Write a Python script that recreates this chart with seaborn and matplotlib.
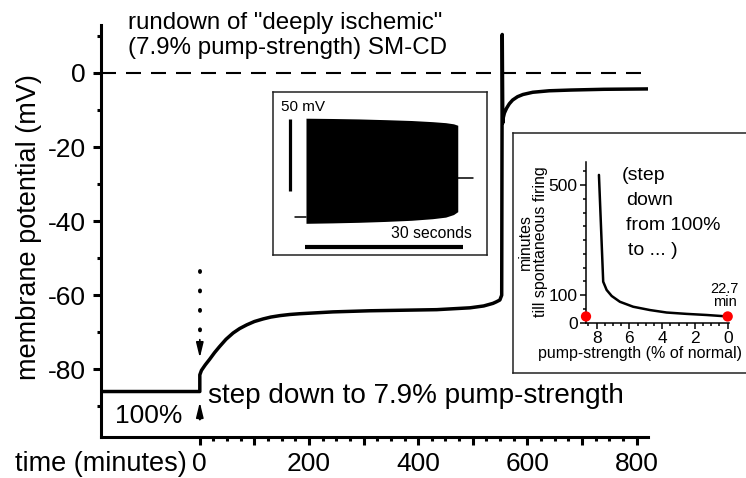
import numpy as np
import matplotlib
matplotlib.use("Agg")
import matplotlib.pyplot as plt
from matplotlib.ticker import FixedLocator, FuncFormatter
import seaborn as sns

# ---- main trace: membrane potential (mV) vs time (minutes) ----
time_min = [-181, 0, 0, 3, 10, 18, 27, 36, 48, 61, 73, 86, 100, 116, 130, 147,
            165, 183, 244, 311, 434, 495, 520, 537, 543, 549.6, 553, 554,
            555, 556, 558, 562, 567, 573, 582, 592, 610, 640, 680, 740, 821]
potential_mv = [-86, -86, -81.5, -80.3, -78.8, -77.3, -75.5, -73.9, -71.9, -70.2,
                -69.0, -68.0, -67.1, -66.4, -65.9, -65.5, -65.2, -65.0, -64.5,
                -64.2, -63.9, -63.4, -62.9, -62.2, -61.8, -61.3, -60.0, 10.4,
                -13.5, -12.0, -10.8, -9.5, -8.3, -7.3, -6.4, -5.8, -5.2, -4.8,
                -4.6, -4.4, -4.3]

# ---- inset: burst of firing (seconds, mV) ----
burst_t = [0, 5, 10, 15, 20, 24, 26.5, 28, 28.8]
burst_top = [6.4, 6.2, 5.9, 5.4, 4.8, 4.0, 3.3, 2.5, 1.5]
burst_bottom = [-66.6, -66.3, -65.9, -65.3, -64.5, -63.4, -62.3, -60.5, -58.5]
lead_t, lead_v = [-2.1, 0], [-62, -62]
tail_t, tail_v = [28.8, 31.7], [-35.1, -35.1]

# ---- inset: minutes till spontaneous firing vs pump strength ----
pump_pct = [7.86, 7.6, 7.39, 7.08, 6.58, 5.77, 4.75, 3.73, 2.50, 1.28, 0]
minutes_to_fire = [537, 149, 119, 97, 76, 58, 46, 37, 32, 28, 22.7]
marker_pct = [8.65, 0]
marker_min = [22.7, 22.7]

W, H, DPI = 746, 478, 100
sns.set_style("ticks")
plt.rcParams["font.family"] = ["Liberation Sans", "DejaVu Sans"]
plt.rcParams["axes.unicode_minus"] = False

fig = plt.figure(figsize=(W / DPI, H / DPI), dpi=DPI)


def rect(left, top, right, bottom):
    return [left / W, 1 - bottom / H, (right - left) / W, (bottom - top) / H]


def ftext(px, py, s, **kw):
    kw.setdefault("va", "baseline")
    kw.setdefault("color", "black")
    return fig.text(px / W, 1 - py / H, s, **kw)


# ================= main axes =================
ax = fig.add_axes(rect(101, 25, 648, 436.7))
sns.lineplot(x=time_min, y=potential_mv, sort=False, estimator=None,
             color="black", linewidth=2.5, ax=ax)
ax.axhline(0, color="black", linewidth=1.5, linestyle=(0, (7.2, 4.8)))
ax.set_xlim(-181, 821)
ax.set_ylim(-98.2, 12.96)
sns.despine(ax=ax)
for s in ("left", "bottom"):
    ax.spines[s].set_linewidth(2.2)
    ax.spines[s].set_color("black")
ax.xaxis.set_major_locator(FixedLocator(np.arange(0, 801, 100)))
ax.xaxis.set_minor_locator(FixedLocator(np.arange(0, 801, 25)))
ax.xaxis.set_major_formatter(FuncFormatter(lambda v, p: f"{v:.0f}" if v % 200 == 0 else ""))
ax.yaxis.set_major_locator(FixedLocator([-80, -60, -40, -20, 0]))
ax.yaxis.set_minor_locator(FixedLocator([-90, -70, -50, -30, -10, 10]))
ax.yaxis.set_major_formatter(FuncFormatter(lambda v, p: f"{v:.0f}"))
ax.tick_params(which="major", length=6, width=2.2, labelsize=19, pad=5,
               direction="out", color="black", labelcolor="black")
ax.tick_params(which="minor", length=3, width=2.2, direction="out", color="black")
ax.set_xlabel("")
ax.set_ylabel("")

# dotted arrows marking the step at t = 0
dots = dict(color="black", linewidth=2.8, linestyle=(0, (0.25, 4.75)),
            dash_capstyle="round")
ax.plot([0, 0], [-53.4, -71.5], **dots)
ax.plot([0, 0], [-92.8, -97.8], **dots)
head = dict(arrowstyle="-|>,head_length=0.9,head_width=0.22", color="black",
            lw=1.2, shrinkA=0, shrinkB=0)
ax.annotate("", xy=(0, -76.9), xytext=(0, -72.0), arrowprops=head)
ax.annotate("", xy=(0, -88.9), xytext=(0, -93.6), arrowprops=head)

# ================= inset: firing burst =================
ax1 = fig.add_axes(rect(273, 92, 487, 255), zorder=2)
ax1.set_facecolor("white")
ax1.fill_between(burst_t, burst_bottom, burst_top, color="black", linewidth=0)
sns.lineplot(x=lead_t, y=lead_v, color="black", linewidth=1.1, ax=ax1)
sns.lineplot(x=tail_t, y=tail_v, color="black", linewidth=1.1, ax=ax1)
ax1.plot([-3.04, -3.04], [5.8, -44.2], color="black", linewidth=2.3, solid_capstyle="butt")
ax1.plot([-0.2, 29.8], [-82.8, -82.8], color="black", linewidth=3.0, solid_capstyle="butt")
ax1.set_xlim(-6.26, 34.35)
ax1.set_ylim(-88.6, 24.6)
ax1.set_xticks([])
ax1.set_yticks([])
ax1.set_xlabel("")
ax1.set_ylabel("")
for s in ax1.spines.values():
    s.set_linewidth(1.1)
    s.set_color("#222222")

# ================= inset: time to firing =================
axb = fig.add_axes(rect(513, 133, 770, 373), zorder=2)
axb.set_facecolor("white")
axb.set_xticks([])
axb.set_yticks([])
for s in axb.spines.values():
    s.set_linewidth(1.1)
    s.set_color("#222222")

ax2 = fig.add_axes(rect(586, 161.7, 729, 322.7), zorder=3)
ax2.patch.set_alpha(0)
sns.lineplot(x=pump_pct, y=minutes_to_fire, sort=False, estimator=None,
             color="black", linewidth=1.8, ax=ax2)
sns.scatterplot(x=marker_pct, y=marker_min, color="#ff0000", s=55,
                edgecolor="none", zorder=5, clip_on=False, ax=ax2)
ax2.set_xlim(8.65, -0.08)
ax2.set_ylim(0, 585)
sns.despine(ax=ax2)
for s in ("left", "bottom"):
    ax2.spines[s].set_linewidth(1.1)
    ax2.spines[s].set_color("black")
ax2.xaxis.set_major_locator(FixedLocator([8, 6, 4, 2, 0]))
ax2.xaxis.set_minor_locator(FixedLocator(np.arange(0, 8.51, 0.5)))
ax2.yaxis.set_major_locator(FixedLocator([0, 100, 500]))
ax2.yaxis.set_minor_locator(FixedLocator(np.arange(0, 551, 50)))
ax2.xaxis.set_major_formatter(FuncFormatter(lambda v, p: f"{v:.0f}"))
ax2.yaxis.set_major_formatter(FuncFormatter(lambda v, p: f"{v:.0f}"))
ax2.tick_params(which="major", length=4, width=1.1, labelsize=12.5, pad=2,
                color="black", labelcolor="black")
ax2.tick_params(which="minor", length=2.5, width=1.1, color="black")
ax2.set_xlabel("")
ax2.set_ylabel("")

# ================= text =================
ftext(128, 29, 'rundown of "deeply ischemic"', fontsize=17.4)
ftext(128, 54, "(7.9% pump-strength) SM-CD", fontsize=17.4)
ftext(29, 227.5, "membrane potential (mV)", rotation=90, ha="center",
      va="center", fontsize=19.5)
ftext(15, 471, "time (minutes)", fontsize=19.5)
ftext(115, 422.7, "100%", fontsize=19)
ftext(208, 403, "step down to 7.9% pump-strength", fontsize=20.1)

ftext(281, 111, "50 mV", fontsize=11)
ftext(472, 238, "30 seconds", ha="right", fontsize=11.3)

ftext(533, 242, "minutes\ntill spontaneous firing", rotation=90, ha="center",
      va="center", fontsize=11.5, linespacing=0.95, multialignment="center")
ftext(640, 358, "pump-strength (% of normal)", ha="center", fontsize=11.5)
ftext(622, 180, "(step", fontsize=14)
ftext(626, 205, "down", fontsize=14)
ftext(626, 230, "from 100%", fontsize=14)
ftext(628, 255, "to ... )", fontsize=14)
ftext(724, 293, "22.7", ha="center", fontsize=10.5)
ftext(725, 306.5, "min", ha="center", fontsize=10.5)

fig.savefig("out.png", dpi=DPI)
